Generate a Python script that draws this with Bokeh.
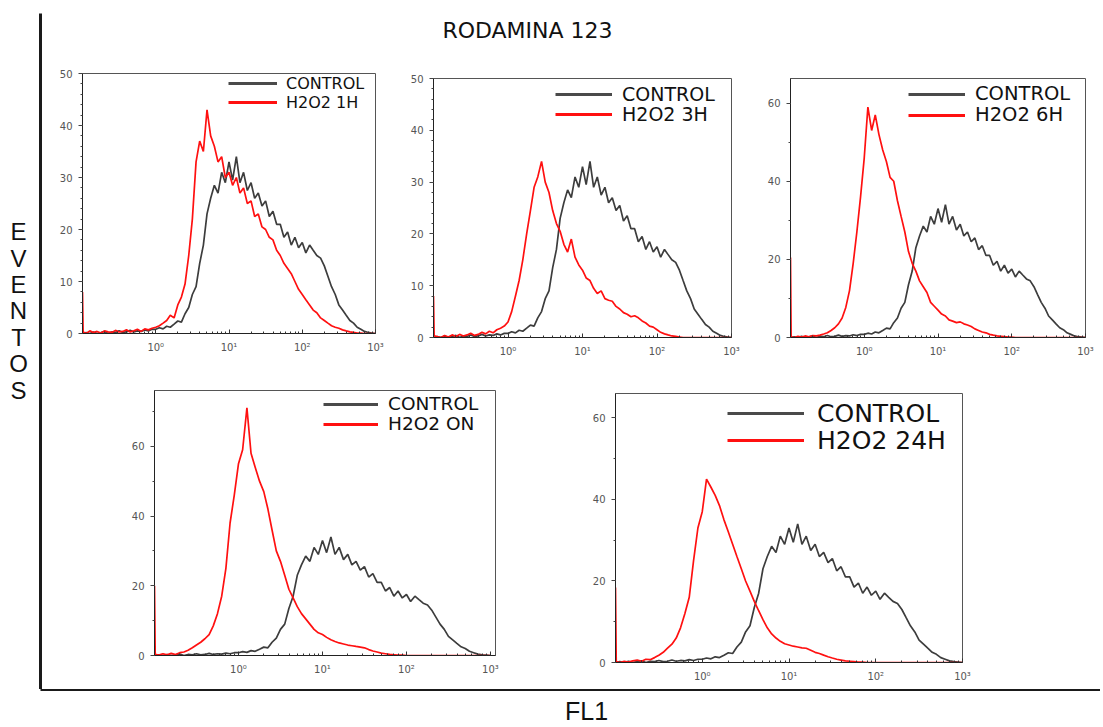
from bokeh.plotting import figure
from bokeh.layouts import row, column
from bokeh.models import FixedTicker, SingleIntervalTicker, Range1d, Legend, LegendItem, Spacer
from bokeh.core.properties import value
from bokeh.embed import file_html
from bokeh.resources import INLINE

# ---------------- data ----------------
# FL1 channel positions (log scale, ~20 per decade); first channel holds the off-scale events
fl1 = [0.1, 0.102,
       0.112, 0.126, 0.141, 0.158, 0.178, 0.2, 0.224, 0.251, 0.282, 0.316,
       0.355, 0.398, 0.447, 0.501, 0.562, 0.631, 0.708, 0.794, 0.891,
       1.0, 1.12, 1.26, 1.41, 1.58, 1.78, 2.0, 2.24, 2.51, 2.82,
       3.16, 3.55, 3.98, 4.47, 5.01, 5.62, 6.31, 7.08, 7.94, 8.91,
       10.0, 11.2, 12.6, 14.1, 15.8, 17.8, 20.0, 22.4, 25.1, 28.2,
       31.6, 35.5, 39.8, 44.7, 50.1, 56.2, 63.1, 70.8, 79.4, 89.1,
       100.0, 112.0, 126.0, 141.0, 158.0, 178.0, 200.0, 224.0, 251.0, 282.0,
       316.0, 355.0, 398.0, 447.0, 501.0, 562.0, 631.0, 708.0, 794.0, 891.0,
       1000.0]

control = [0,
           0, 0.2, 0, 0.3, 0, 0.2, 0.4, 0, 0.3, 0.2, 0.5, 0.2, 0.3, 0.6, 0.3, 0.5, 0.4, 0.7, 0.5, 0.8,
           0.8, 1.1, 0.9, 1.4, 1.2, 1.8, 2.4, 2.2, 3.8, 5.0, 7.5, 9.0, 13.5, 17.0, 23.0, 26.0, 28.5, 27.0, 31.0, 29.0,
           33.0, 29.5, 34.0, 29.0, 31.0, 27.5, 29.0, 26.0, 27.0, 24.5, 25.5, 22.5, 23.5, 21.0, 21.0, 18.5, 19.5, 17.0, 18.5, 16.5,
           17.5, 15.5, 17.0, 16.0, 15.0, 14.5, 13.0, 11.0, 9.0, 7.5, 5.5, 4.5, 3.5, 2.5, 2.0, 1.2, 0.8, 0.4, 0.2, 0.1, 0.0]

h2o2_1h = [8,
           0.3, 0, 0.5, 0.2, 0.4, 0.1, 0.5, 0.3, 0.2, 0.6, 0.3, 0.4, 0.7, 0.3, 0.5, 0.8, 0.4, 0.9, 0.7, 1.0,
           1.2, 1.5, 2.0, 2.5, 3.5, 3.0, 5.5, 7.0, 9.5, 15.0, 22.0, 33.0, 37.0, 35.0, 43.0, 38.0, 36.0, 33.0, 34.0, 30.0,
           31.0, 28.5, 30.0, 27.0, 28.0, 25.0, 25.5, 22.5, 23.0, 20.5, 20.0, 18.5, 18.0, 16.0, 15.0, 13.5, 12.5, 11.5, 10.0, 8.5,
           7.5, 6.5, 5.5, 4.5, 4.0, 3.0, 2.5, 2.0, 1.5, 1.2, 1.0, 0.7, 0.5, 0.3, 0.2, 0.1, 0.1, 0, 0, 0, 0]

h2o2_3h = [8,
           0.3, 0.2, 0, 0.4, 0.1, 0.5, 0.2, 0.6, 0.3, 0.5, 0.8, 0.4, 0.6, 1.0, 0.7, 1.2, 0.9, 1.5, 1.8, 2.2,
           3.0, 5.0, 8.0, 11.0, 15.0, 20.0, 24.5, 29.0, 31.0, 34.0, 30.0, 28.0, 24.5, 22.0, 20.5, 18.0, 16.5, 19.0, 15.5, 14.0,
           13.0, 11.5, 11.0, 9.5, 8.5, 9.0, 7.5, 7.2, 7.0, 6.0, 5.5, 4.8, 4.5, 4.0, 4.2, 3.8, 3.2, 2.8, 2.2, 2.0,
           1.5, 1.0, 0.7, 0.5, 0.3, 0.2, 0.1, 0, 0, 0, 0, 0, 0, 0, 0, 0, 0, 0, 0, 0, 0]

h2o2_6h = [20.5,
           0.2, 0, 0.3, 0.1, 0.4, 0.2, 0.5, 0.4, 0.6, 0.9, 1.2, 1.8, 2.5, 3.5, 5.0, 7.7, 12.0, 19.0, 27.0, 36.0,
           46.0, 59.0, 53.0, 57.0, 52.0, 48.0, 45.0, 41.0, 40.0, 35.0, 31.0, 27.0, 22.0, 19.0, 17.0, 14.5, 13.0, 11.5, 9.0, 8.0,
           7.0, 6.0, 5.5, 4.5, 4.2, 3.8, 4.0, 3.5, 3.2, 2.8, 2.2, 1.8, 1.4, 1.2, 0.8, 0.6, 0.4, 0.3, 0.2, 0.1,
           0.1, 0, 0, 0, 0, 0, 0, 0, 0, 0, 0, 0, 0, 0, 0, 0, 0, 0, 0, 0, 0]

h2o2_on = [20,
           0.3, 0.1, 0.5, 0.2, 0.6, 0.3, 0.8, 1.0, 1.5, 2.2, 3.0, 3.8, 4.8, 6.0, 8.5, 12.0, 17.0, 25.0, 38.0, 46.0,
           55.0, 59.0, 71.0, 58.0, 54.0, 50.0, 47.0, 42.0, 36.0, 30.0, 27.0, 23.0, 19.0, 16.5, 14.0, 12.0, 10.5, 9.0, 7.5, 6.5,
           6.0, 5.2, 4.5, 4.0, 3.6, 3.3, 3.0, 2.8, 2.6, 2.4, 2.2, 1.7, 1.3, 1.0, 0.7, 0.5, 0.3, 0.2, 0.1, 0.1,
           0, 0, 0, 0, 0, 0, 0, 0, 0, 0, 0, 0, 0, 0, 0, 0, 0, 0, 0, 0, 0]

h2o2_24h = [18.4,
            0.2, 0, 0.3, 0.1, 0.4, 0.6, 0.3, 0.8, 0.7, 1.2, 1.8, 2.5, 3.5, 4.5, 6.0, 8.5, 12.0, 16.0, 25.0, 33.0,
            37.0, 45.0, 43.0, 41.0, 38.5, 35.0, 32.0, 29.0, 26.0, 23.0, 20.0, 17.5, 15.0, 12.7, 10.5, 8.5, 7.0, 6.0, 5.2, 4.6,
            4.3, 4.0, 3.8, 3.6, 3.5, 3.0, 2.5, 2.2, 1.8, 1.4, 1.1, 0.8, 0.6, 0.4, 0.3, 0.2, 0.1, 0.1, 0, 0,
            0, 0, 0, 0, 0, 0, 0, 0, 0, 0, 0, 0, 0, 0, 0, 0, 0, 0, 0, 0, 0]

labels = ["H2O2 1H", "H2O2 3H", "H2O2 6H", "H2O2 ON", "H2O2 24H"]
x_ticks = [1, 10, 100, 1000]
x_tick_labels = ["10\u2070", "10\u00b9", "10\u00b2", "10\u00b3"]

GRAY = "#3d3d3d"
RED = "#ff1010"
NAN = float("nan")
MINOR = [m * 10.0 ** e for e in (-1, 0, 1, 2) for m in range(2, 10)]


def panel(w, h, bl, br, bt, bb, xmax, ymax, red, label, interval, nminor, leg):
    p = figure(width=w, height=h, x_axis_type="log",
               x_range=Range1d(0.1, xmax), y_range=Range1d(0, ymax),
               min_border_left=bl, min_border_right=br, min_border_top=bt, min_border_bottom=bb,
               toolbar_location=None, output_backend="svg")
    p.grid.visible = False
    p.outline_line_color = "#555555"
    p.outline_line_width = 1
    p.background_fill_color = "white"
    p.border_fill_color = "white"

    xa = p.xaxis[0]
    xa.ticker = FixedTicker(ticks=x_ticks, minor_ticks=MINOR)
    xa.major_label_overrides = dict(zip(x_ticks, x_tick_labels))
    xa.axis_line_color = "#222222"
    xa.major_tick_in = 4
    xa.major_tick_out = 0
    xa.minor_tick_in = 2
    xa.minor_tick_out = 0
    xa.major_tick_line_color = "#333333"
    xa.minor_tick_line_color = "#333333"
    xa.major_label_text_font = "DejaVu Sans"
    xa.major_label_text_font_size = "10px"
    xa.major_label_text_color = "#555555"
    xa.major_label_standoff = 8

    ya = p.yaxis[0]
    ya.ticker = SingleIntervalTicker(interval=interval, num_minor_ticks=nminor)
    ya.axis_line_color = "#222222"
    ya.major_tick_in = 0
    ya.major_tick_out = 4
    ya.minor_tick_in = 0
    ya.minor_tick_out = 2
    ya.major_tick_line_color = "#444444"
    ya.minor_tick_line_color = "#444444"
    ya.major_label_text_font = "DejaVu Sans"
    ya.major_label_text_font_size = "10px"
    ya.major_label_text_color = "#555555"
    ya.major_label_standoff = 6

    p.line(fl1, control, line_color=GRAY, line_width=1.7)
    p.line(fl1, red, line_color=RED, line_width=1.7)

    # legend key samples (drawn thicker, as in the original key)
    r_c = p.line(x=[NAN], y=[NAN], line_color="#4a4a4a", line_width=3)
    r_r = p.line(x=[NAN], y=[NAN], line_color=RED, line_width=3)

    font_px, gw, standoff, lx, ly1, ly2 = leg
    for rend, txt, ly in ((r_c, "CONTROL", ly1), (r_r, label, ly2)):
        lg = Legend(items=[LegendItem(label=txt, renderers=[rend])], location=(lx, ly))
        lg.label_text_font = "DejaVu Sans"
        lg.label_text_font_size = f"{font_px}px"
        lg.label_text_color = "#111111"
        lg.label_text_baseline = "middle"
        lg.glyph_width = gw
        lg.glyph_height = 40
        lg.label_height = 40
        lg.label_standoff = standoff
        lg.spacing = 0
        lg.padding = 0
        lg.margin = 0
        lg.border_line_color = None
        lg.background_fill_alpha = 0
        p.add_layout(lg)
    return p


def placed(p, w, dy):
    # vertical offset of a panel inside its row
    if dy > 0:
        return column(Spacer(width=w, height=dy), p)
    return column(p)


p1 = panel(358, 301, 40, 25, 18, 23, 1000, 50, h2o2_1h, labels[0], 10, 5,
           (16, 49, 9, 146, 229.7, 210.7))
p2 = panel(357, 300, 33, 26, 18, 23, 1000, 50, h2o2_3h, labels[1], 10, 5,
           (19, 57, 10, 122, 223.4, 203.4))
p3 = panel(343, 300, 33, 15, 18, 23, 1000, 66.3, h2o2_6h, labels[2], 20, 2,
           (19.5, 57, 10, 118, 223.4, 202.4))
p4 = panel(513, 322, 112, 60, 30, 27, 1148, 76, h2o2_on, labels[3], 20, 2,
           (18.5, 55, 10, 169, 231.3, 211.3))
p5 = panel(545, 326, 60, 138, 30, 27, 1000, 66, h2o2_24h, labels[4], 20, 2,
           (25, 77, 13, 112, 228.9, 201.9))

top_row = row(placed(p1, 358, 0), placed(p2, 357, 5), placed(p3, 343, 5))
bottom_row = row(placed(p4, 513, 0), placed(p5, 545, 3))

# title strip
tf = figure(width=1058, height=55, x_range=(0, 1), y_range=(0, 1), min_border=0,
            x_axis_location=None, y_axis_location=None, toolbar_location=None, output_backend="svg")
tf.grid.visible = False
tf.outline_line_color = None
tf.text(x=[0.4584], y=[0.4636], text=["RODAMINA 123"], text_font=value("DejaVu Sans"),
        text_font_size="22px", text_color="#111111", text_align="center", text_baseline="middle")

# left strip: overall y axis "EVENTOS"
ls = figure(width=42, height=689, x_range=(0, 1), y_range=(0, 1),
            min_border_left=0, min_border_right=2, min_border_top=13, min_border_bottom=0,
            x_axis_location=None, y_axis_location="right", toolbar_location=None, output_backend="svg")
ls.grid.visible = False
ls.outline_line_color = None
lya = ls.yaxis[0]
lya.ticker = FixedTicker(ticks=[])
lya.axis_line_width = 3
lya.axis_line_color = "#1a1a1a"
lya.major_tick_in = lya.major_tick_out = lya.minor_tick_in = lya.minor_tick_out = 0
lya.major_label_standoff = 0
ls.text(x=[0.45], y=[0.56], text=["E\nV\nE\nN\nT\nO\nS"], text_font=value("Liberation Sans"),
        text_font_size="24px", text_color="#111111", text_align="center", text_baseline="middle",
        text_line_height=0.98)

# bottom strip: overall x axis "FL1"
bs = figure(width=1100, height=35, x_range=(0, 1), y_range=(0, 1),
            min_border_left=40, min_border_right=0, min_border_top=0, min_border_bottom=0,
            x_axis_location="above", y_axis_location=None, toolbar_location=None, output_backend="svg")
bs.grid.visible = False
bs.outline_line_color = None
bxa = bs.xaxis[0]
bxa.ticker = FixedTicker(ticks=[])
bxa.axis_line_width = 3
bxa.axis_line_color = "#1a1a1a"
bxa.major_tick_in = bxa.major_tick_out = bxa.minor_tick_in = bxa.minor_tick_out = 0
bxa.major_label_standoff = 0
bs.text(x=[0.5151], y=[0.40], text=["FL1"], text_font=value("Liberation Sans"),
        text_font_size="25px", text_color="#111111", text_align="center", text_baseline="middle")

main = column(tf, top_row, bottom_row)
layout = column(row(ls, main), bs)

open("out.html", "w").write(file_html(layout, INLINE))
